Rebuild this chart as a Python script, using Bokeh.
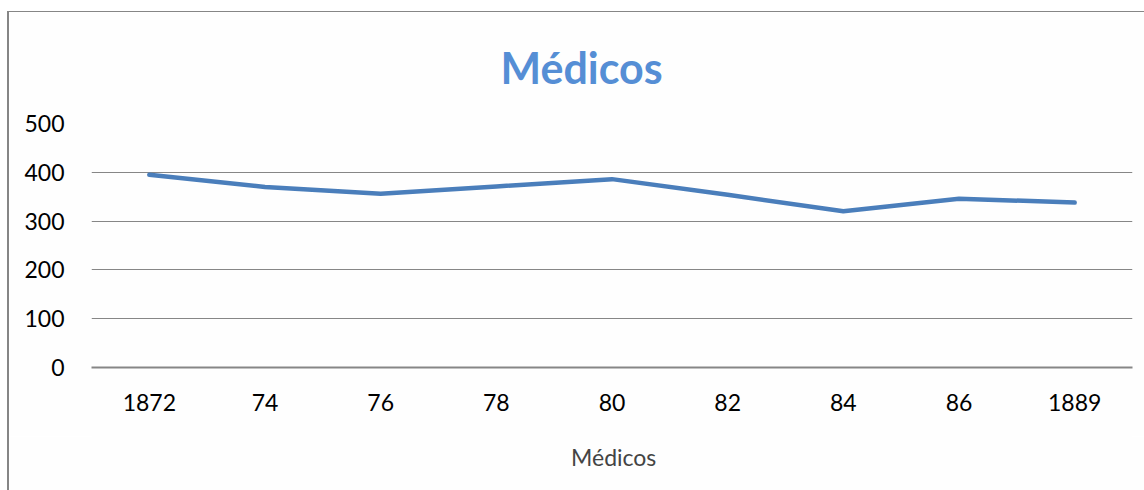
from bokeh.plotting import figure
from bokeh.models import Legend, LegendItem, ColumnDataSource
from bokeh.layouts import column
from bokeh.embed import file_html
from bokeh.resources import INLINE

years = ["1872", "74", "76", "78", "80", "82", "84", "86", "1889"]
medicos = [395, 370, 356, 371, 386, 354, 320, 346, 338]
series_name = "Médicos"
title_text = "Médicos"
y_ticks = [0, 100, 200, 300, 400, 500]

LINE_COLOR = "#4A7EBB"
src = ColumnDataSource(dict(x=years, y=medicos))

# main chart
p = figure(width=1137, height=424, frame_width=1039, frame_height=243,
           x_range=years, y_range=(0, 500),
           output_backend="svg", toolbar_location=None,
           min_border_left=82, min_border_right=16, min_border_top=111, min_border_bottom=70)
p.margin = (11, 0, 0, 7)
p.styles = {"border-top": "1px solid #868686", "border-left": "2px solid #868686"}

r = p.line("x", "y", source=src, line_color=LINE_COLOR, line_width=4.5,
           line_cap="round", line_join="round")

p.title.text = title_text
p.title.text_font = "Lato"
p.title.text_font_style = "bold"
p.title.text_font_size = "43px"
p.title.text_color = "#558ED5"
p.title.align = "left"
p.title.offset = 409
p.title.vertical_align = "top"
p.title.standoff = 58

p.outline_line_color = None
p.xgrid.grid_line_color = None
p.ygrid.grid_line_color = "#868686"
p.ygrid.grid_line_width = 1
p.yaxis.ticker = y_ticks
p.yaxis.axis_line_color = None
p.yaxis.major_tick_line_color = None
p.yaxis.minor_tick_line_color = None
p.yaxis.major_label_standoff = 21
p.xaxis.axis_line_color = "#868686"
p.xaxis.axis_line_width = 2
p.xaxis.major_tick_line_color = None
p.xaxis.major_label_standoff = 20
for ax in (p.xaxis, p.yaxis):
    ax.major_label_text_font = "Lato"
    ax.major_label_text_font_size = "23px"
    ax.major_label_text_color = "#000000"
p.background_fill_color = "#fefefe"
p.border_fill_color = "#fefefe"

# legend strip under the chart
p2 = figure(width=1137, height=55, frame_width=1039, frame_height=55,
            x_range=(0, 1), y_range=(0, 1), title_location=None,
            x_axis_location=None, y_axis_location=None,
            output_backend="svg", toolbar_location=None,
            min_border_left=82, min_border_right=16, min_border_top=0, min_border_bottom=0)
p2.margin = (0, 0, 0, 7)
p2.styles = {"border-left": "2px solid #868686"}
p2.grid.visible = False
p2.outline_line_color = None
p2.background_fill_color = "#fefefe"
p2.border_fill_color = "#fefefe"
r2 = p2.line(x="x", y="y", source=ColumnDataSource(dict(x=[], y=[])),
             line_color=LINE_COLOR, line_width=4.5, line_cap="round")

legend = Legend(items=[LegendItem(label=series_name, renderers=[r2])],
                orientation="horizontal", location=(423, 20),
                label_text_font="Lato", label_text_font_size="23px",
                glyph_width=53, label_standoff=4, border_line_color=None,
                background_fill_alpha=0, margin=0, padding=0, spacing=0)
p2.add_layout(legend)

layout = column(p, p2, spacing=0)
open("out.html", "w").write(file_html(layout, INLINE))
